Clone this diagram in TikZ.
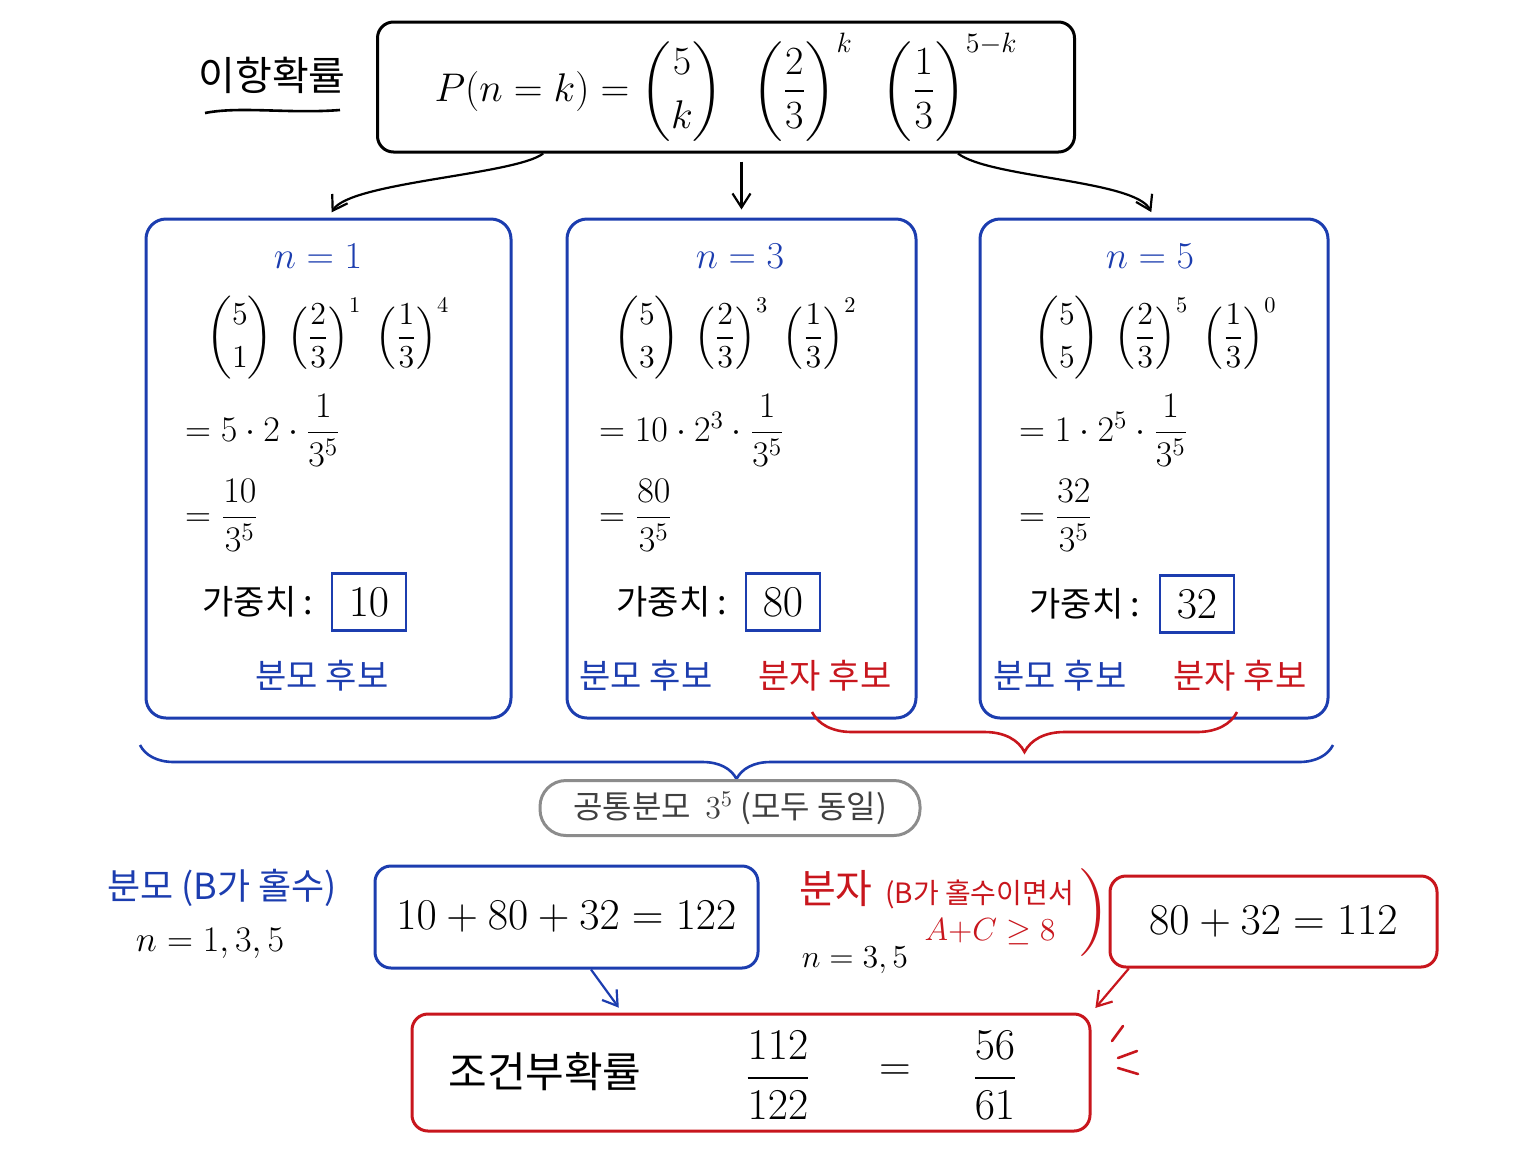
\RequirePackage{fix-cm}
\documentclass[tikz,border=0pt]{standalone}
\usepackage{amsmath}
\usepackage{fontspec}
\newfontfamily\kr{Noto Sans CJK KR}
\usetikzlibrary{arrows.meta,decorations.pathreplacing}
\definecolor{myblue}{HTML}{1C3DAF}
\definecolor{myred}{HTML}{C8161D}
\definecolor{mygray}{HTML}{8C8C8C}
\newcommand{\fsz}[1]{\fontsize{#1}{#1}\selectfont}

\begin{document}
\begin{tikzpicture}[x=0.5pt,y=-0.5pt,
  bbox/.style={draw=myblue,rounded corners=10pt,line width=1.5pt},
  rbox/.style={draw=myred,rounded corners=8pt,line width=1.5pt},
  kbox/.style={draw,rounded corners=8pt,line width=1.5pt},
  wbox/.style={draw=myblue,line width=1.3pt,minimum width=37pt,minimum height=28.5pt,inner sep=0pt,font=\fsz{22}},
  arr/.style={-{Straight Barb[length=7pt,width=9pt]},line width=1.1pt},
  mth/.style={font=\fsz{18}},
  nlab/.style={font=\fsz{19},text=myblue,inner sep=0pt},
  bin/.style={font=\fsz{16},inner sep=0pt},
  ktx/.style={font=\kr\fsz{17}}]

\useasboundingbox (0,0) rectangle (1536,1152);

\node [font=\kr\fsz{20}] (lab) at (272,75) {이항확률};
\draw [line width=1.3pt] (205,113) .. controls (240,106) and (290,114) .. (340,110);
\node [kbox,minimum width=348.5pt,minimum height=65pt,font=\fsz{20}] (top) at (726,87)
  {$P(n=k) = \dbinom{5}{k}\;\;\left(\dfrac{2}{3}\right)^{k}\;\;\left(\dfrac{1}{3}\right)^{5-k}$};

\node [bbox,minimum width=182.5pt,minimum height=249.5pt] (b1) at (328.5,468.5) {};
\node [bbox,minimum width=174.5pt,minimum height=249.5pt] (b2) at (741.5,468.5) {};
\node [bbox,minimum width=174pt,minimum height=249.5pt] (b3) at (1154,468.5) {};

\draw [arr,shorten >=3pt] (top.200) .. controls (515,175) and (350,182) .. (b1.north);
\draw [arr,shorten <=4pt,shorten >=4pt] (top.south -| b2.north) -- (b2.north);
\draw [arr,shorten >=3pt] (top.-16) .. controls (990,178) and (1135,180) .. (b3.north);

\node [nlab] (n1) at (318,256) {$n = 1$};
\node [bin] (p1) at (328,338) {$\dbinom{5}{1}\;\left(\dfrac{2}{3}\right)^{1}\;\left(\dfrac{1}{3}\right)^{4}$};
\node [mth,anchor=west] (s1) at (178,430) {$= 5\cdot 2\cdot \dfrac{1}{3^5}$};
\node [mth,anchor=west] (f1) at (178,515) {$= \dfrac{10}{3^5}$};
\node [ktx] (g1) at (258,602) {가중치 :};
\node [wbox] (w1) at (369,602) {$10$};
\node [ktx,text=myblue] (d1) at (322,676) {분모 후보};

\node [nlab] (n2) at (740,256) {$n = 3$};
\node [bin] (p2) at (735,338) {$\dbinom{5}{3}\;\left(\dfrac{2}{3}\right)^{3}\;\left(\dfrac{1}{3}\right)^{2}$};
\node [mth,anchor=west] (s2) at (592,430) {$= 10\cdot 2^3\cdot \dfrac{1}{3^5}$};
\node [mth,anchor=west] (f2) at (592,515) {$= \dfrac{80}{3^5}$};
\node [ktx] (g2) at (672,602) {가중치 :};
\node [wbox] (w2) at (783,602) {$80$};
\node [ktx,text=myblue] (d2) at (646,676) {분모 후보};
\node [ktx,text=myred] (u2) at (825,676) {분자 후보};

\node [nlab] (n3) at (1150,256) {$n = 5$};
\node [bin] (p3) at (1155,338) {$\dbinom{5}{5}\;\left(\dfrac{2}{3}\right)^{5}\;\left(\dfrac{1}{3}\right)^{0}$};
\node [mth,anchor=west] (s3) at (1012,430) {$= 1\cdot 2^5\cdot \dfrac{1}{3^5}$};
\node [mth,anchor=west] (f3) at (1012,515) {$= \dfrac{32}{3^5}$};
\node [ktx] (g3) at (1085,604) {가중치 :};
\node [wbox] (w3) at (1197,604) {$32$};
\node [ktx,text=myblue] (d3) at (1060,676) {분모 후보};
\node [ktx,text=myred] (u3) at (1240,676) {분자 후보};

\draw [myred,line width=1.3pt,decorate,decoration={brace,mirror,amplitude=20pt}] (812,712) -- (1237,712);
\draw [myblue,line width=1.3pt,decorate,decoration={brace,mirror,amplitude=17pt}] (140,745) -- (1333,745);
\node [kbox,draw=mygray,fill=white,rounded corners=13pt,minimum width=190pt,minimum height=27.5pt,font=\kr\fsz{16},text=black!75] (cm) at (730,808) {공통분모 \ $3^5$ (모두 동일)};

\node [font=\kr\fsz{18},text=myblue] (dl) at (222,888) {분모 (B가 홀수)};
\node [mth] (dn) at (210,943) {$n = 1, 3, 5$};
\node [bbox,rounded corners=8pt,minimum width=191.5pt,minimum height=51pt,font=\fsz{22}] (sum1) at (566.5,917) {$10 + 80 + 32 = 122$};

\node [font=\kr\fsz{14},text=myred,anchor=west] (nl) at (792,890) {{\fsz{20}분자} \ (B가 홀수이면서};
\node [font=\fsz{16},text=myred] (nc) at (990,932) {$A{+}C \geq 8$};
\node [font=\fsz{44},text=myred] (np) at (1093,913) {)};
\node [font=\fsz{16}] (nn) at (855,960) {$n = 3, 5$};
\node [rbox,minimum width=163.5pt,minimum height=45.5pt,font=\fsz{22}] (sum2) at (1273.5,921.5) {$80 + 32 = 112$};

\node [rbox,minimum width=339pt,minimum height=58.5pt] (res) at (751,1072.5) {};
\node [font=\kr\fsz{21}] (rl) at (545,1072) {조건부확률};
\node [font=\fsz{22}] (rf1) at (778,1075) {$\dfrac{112}{122}$};
\node [font=\fsz{22}] (req) at (895,1073) {$=$};
\node [font=\fsz{22}] (rf2) at (995,1075) {$\dfrac{56}{61}$};

\draw [arr,myblue,shorten >=3pt] (sum1.-65) -- (res.155);
\draw [arr,myred,shorten >=3pt] (sum2.198) -- (res.north east);
\draw [myred,line width=1.3pt,line cap=round] (1112,1041) -- (1123,1026) (1118,1058) -- (1137,1051) (1118,1068) -- (1138,1074);

\end{tikzpicture}
\end{document}
